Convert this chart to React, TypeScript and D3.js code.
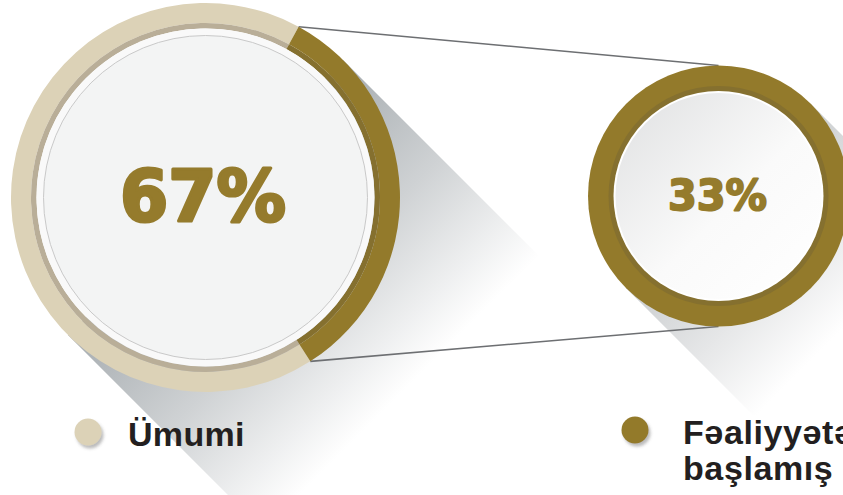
import React from "react";
import * as d3 from "d3";

const categories = ["Ümumi", "Fəaliyyətə başlamış"];
const values = [67, 33];
const legendLines = [["Ümumi"], ["Fəaliyyətə", "başlamış"]];
const ringColors = ["#dcd2b7", "#937a2b"];
const ringDarkColors = ["#b9ae98", "#85702f"];

const W = 843;
const H = 495;

export default function App() {
  const pie = d3
    .pie<number>()
    .sort(null)
    .value((d) => d)
    .startAngle((147.4 * Math.PI) / 180)
    .endAngle((507.4 * Math.PI) / 180);
  const arcsData = pie(values);

  const big = { cx: 205.5, cy: 197.5, R: 194.5 };
  const small = { cx: 718.5, cy: 196, R: 130.5 };

  const outerArc = d3.arc<d3.PieArcDatum<number>>().innerRadius(174.5).outerRadius(big.R);
  const innerArc = d3.arc<d3.PieArcDatum<number>>().innerRadius(169).outerRadius(174.5);

  const gold = arcsData[1];
  const pt = (a: number, r: number) => [big.cx + r * Math.sin(a), big.cy - r * Math.cos(a)];
  const [tx, ty] = pt(gold.startAngle, big.R);
  const [bx, by] = pt(gold.endAngle, big.R);

  const shadow = (c: { cx: number; cy: number; R: number }, L: number) => {
    const s = Math.SQRT1_2;
    const A = [c.cx + c.R * s, c.cy - c.R * s];
    const B = [c.cx - c.R * s, c.cy + c.R * s];
    const d = L * s;
    return {
      points: [A, [A[0] + d, A[1] + d], [B[0] + d, B[1] + d], B].map((p) => p.join(",")).join(" "),
      x2: c.cx + d,
      y2: c.cy + d,
    };
  };
  const bigSh = shadow(big, 277);
  const smallSh = shadow(small, 182);

  const pct = (v: number) => `${v}%`;
  const legendFont = "'Liberation Sans', Arial, sans-serif";

  return (
    <svg
      width={W}
      height={H}
      viewBox={`0 0 ${W} ${H}`}
      style={{ position: "absolute", left: 0, top: 0, display: "block", background: "#ffffff" }}
    >
      <defs>
        <linearGradient id="bigShadow" gradientUnits="userSpaceOnUse" x1={big.cx} y1={big.cy} x2={bigSh.x2} y2={bigSh.y2}>
          <stop offset="0" stopColor="#a5abaf" />
          <stop offset="0.5" stopColor="#cfd2d4" />
          <stop offset="1" stopColor="#ffffff" />
        </linearGradient>
        <linearGradient id="smallShadow" gradientUnits="userSpaceOnUse" x1={small.cx} y1={small.cy} x2={smallSh.x2} y2={smallSh.y2}>
          <stop offset="0" stopColor="#c9ccce" />
          <stop offset="0.55" stopColor="#e6e7e8" />
          <stop offset="1" stopColor="#ffffff" />
        </linearGradient>
        <linearGradient id="smallInner" x1="0" y1="0" x2="1" y2="1">
          <stop offset="0" stopColor="#dfe0e1" />
          <stop offset="0.55" stopColor="#fafafa" />
          <stop offset="1" stopColor="#ffffff" />
        </linearGradient>
        <filter id="dotShadow" x="-50%" y="-50%" width="200%" height="200%">
          <feDropShadow dx="2" dy="3" stdDeviation="1.6" floodColor="#6b6b6b" floodOpacity="0.45" />
        </filter>
      </defs>

      <polygon points={bigSh.points} fill="url(#bigShadow)" />
      <polygon points={smallSh.points} fill="url(#smallShadow)" />

      <line x1={tx} y1={ty} x2={small.cx} y2={small.cy - small.R} stroke="#6d6f72" strokeWidth={1.6} />
      <line x1={bx} y1={by} x2={small.cx} y2={small.cy + small.R} stroke="#6d6f72" strokeWidth={1.6} />

      <g transform={`translate(${big.cx},${big.cy})`}>
        {arcsData.map((a, i) => (
          <path key={"o" + categories[i]} d={outerArc(a) as string} fill={ringColors[i]} />
        ))}
        {arcsData.map((a, i) => (
          <path key={"i" + categories[i]} d={innerArc(a) as string} fill={ringDarkColors[i]} />
        ))}
        <circle r={169} fill="#f9f9f9" />
        <circle r={162} fill="#f3f4f4" stroke="#c9c9c9" strokeWidth={1} />
        <text
          x={-2.5}
          y={23}
          textAnchor="middle"
          fontFamily="'DejaVu Sans', sans-serif"
          fontWeight="bold"
          fontSize={72}
          textLength={166}
          lengthAdjust="spacingAndGlyphs"
          fill="#957b2c"
          stroke="#957b2c"
          strokeWidth={3.2}
          strokeLinejoin="round"
        >
          {pct(values[0])}
        </text>
      </g>

      <g transform={`translate(${small.cx},${small.cy})`}>
        <circle r={small.R} fill={ringColors[1]} />
        <circle r={110} fill={ringDarkColors[1]} />
        <circle r={105} fill="#ffffff" />
        <circle r={103} fill="url(#smallInner)" />
        <text
          x={-1}
          y={14}
          textAnchor="middle"
          fontFamily="'DejaVu Sans', sans-serif"
          fontWeight="bold"
          fontSize={43}
          textLength={99}
          lengthAdjust="spacingAndGlyphs"
          fill="#957b2c"
          stroke="#957b2c"
          strokeWidth={2}
          strokeLinejoin="round"
        >
          {pct(values[1])}
        </text>
      </g>

      <circle cx={88} cy={432} r={13.5} fill={ringColors[0]} filter="url(#dotShadow)" />
      <text x={128} y={446} fontFamily={legendFont} fontWeight="bold" fontSize={34} letterSpacing={0.3} fill="#231f20">
        {legendLines[0].map((l, i) => (
          <tspan key={l} x={128} dy={i === 0 ? 0 : 36}>
            {l}
          </tspan>
        ))}
      </text>
      <circle cx={635} cy={430} r={13.5} fill={ringColors[1]} filter="url(#dotShadow)" />
      <text x={683} y={444} fontFamily={legendFont} fontWeight="bold" fontSize={34} letterSpacing={0.6} fill="#231f20">
        {legendLines[1].map((l, i) => (
          <tspan key={l} x={683} dy={i === 0 ? 0 : 36}>
            {l}
          </tspan>
        ))}
      </text>
    </svg>
  );
}
